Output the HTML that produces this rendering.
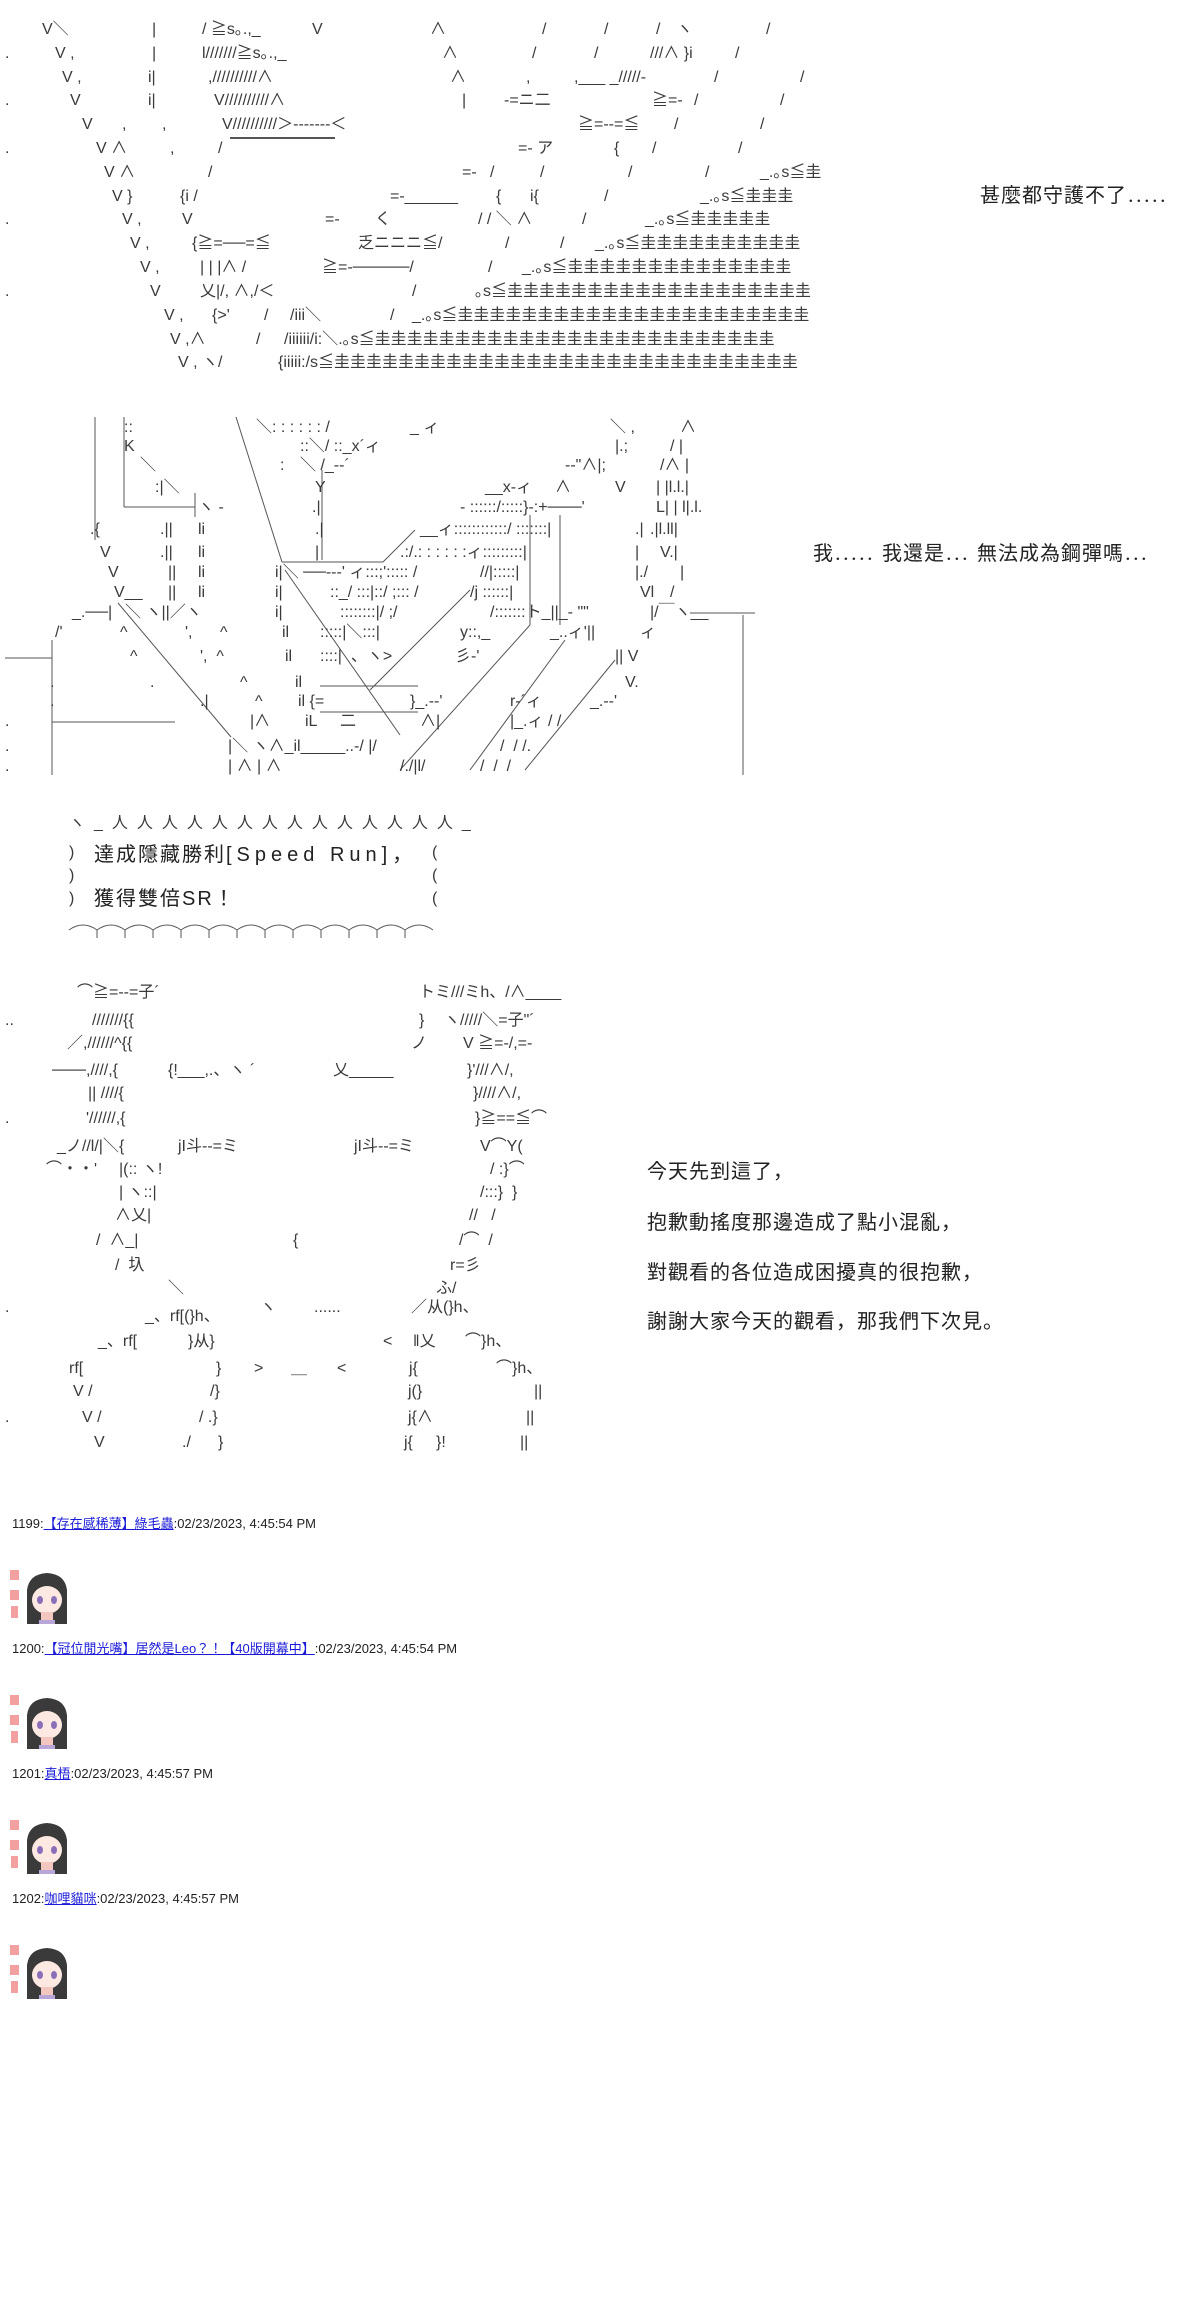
<!DOCTYPE html>
<html><head><meta charset="utf-8">
<style>
html,body{margin:0;padding:0;background:#fff;}
body{position:relative;width:1200px;height:2321px;overflow:hidden;}
i{position:absolute;font-style:normal;white-space:pre;font:16px/16px "Liberation Sans","Noto Sans CJK JP",sans-serif;color:#3a3a3a;}
.t{font-size:20px;line-height:22px;color:#222;letter-spacing:1px;}
.h{font:13px/15px "Liberation Sans","Noto Sans CJK TC",sans-serif;color:#222;}
.h a{color:#1a1ad8;text-decoration:underline;}
svg{position:absolute;left:0;top:0;}
.av{position:absolute;left:9px;width:58px;height:56px;}
.g{font-size:17px;}
</style></head><body>

<svg width="1200" height="2321" style="pointer-events:none">
<g stroke="#555" stroke-width="1" fill="none">
<line x1="230" y1="138" x2="335" y2="138" stroke-width="2"/>
<!-- section2 -->
<line x1="95" y1="417" x2="95" y2="540"/>
<line x1="124" y1="417" x2="124" y2="507"/>
<line x1="124" y1="507" x2="195" y2="507"/>
<line x1="195" y1="493" x2="195" y2="517"/>
<line x1="236" y1="417" x2="282" y2="562"/>
<line x1="282" y1="562" x2="383" y2="562"/>
<line x1="383" y1="562" x2="415" y2="530"/>
<line x1="322" y1="470" x2="322" y2="560"/>
<line x1="118" y1="603" x2="231" y2="737"/>
<line x1="285" y1="570" x2="400" y2="735"/>
<line x1="530" y1="625" x2="400" y2="770"/>
<line x1="565" y1="640" x2="470" y2="770"/>
<line x1="615" y1="660" x2="525" y2="770"/>
<line x1="470" y1="590" x2="370" y2="690"/>
<line x1="5" y1="658" x2="52" y2="658"/>
<line x1="52" y1="640" x2="52" y2="775"/>
<line x1="52" y1="722" x2="175" y2="722"/>
<line x1="743" y1="615" x2="743" y2="775"/>
<line x1="690" y1="613" x2="755" y2="613"/>
<line x1="320" y1="686" x2="418" y2="686"/>
<line x1="320" y1="712" x2="418" y2="712"/>
<line x1="560" y1="515" x2="560" y2="625"/>
<line x1="530" y1="515" x2="530" y2="625"/>
<path d="M69,930 q14,-10 28,0 v8 m0,-8 q14,-10 28,0 v8 m0,-8 q14,-10 28,0 v8 m0,-8 q14,-10 28,0 v8 m0,-8 q14,-10 28,0 v8 m0,-8 q14,-10 28,0 v8 m0,-8 q14,-10 28,0 v8 m0,-8 q14,-10 28,0 v8 m0,-8 q14,-10 28,0 v8 m0,-8 q14,-10 28,0 v8 m0,-8 q14,-10 28,0 v8 m0,-8 q14,-10 28,0 v8 m0,-8 q14,-10 28,0"/>
</g>
</svg>

<!-- SECTION 1 -->
<i style="left:42px;top:22px">V＼</i><i style="left:152px;top:22px">|</i><i style="left:202px;top:22px">/ ≧s｡.,_</i><i style="left:312px;top:22px">V</i><i style="left:430px;top:22px">∧</i><i style="left:542px;top:22px">/</i><i style="left:604px;top:22px">/</i><i style="left:656px;top:22px">/　ヽ</i><i style="left:766px;top:22px">/</i>
<i style="left:5px;top:46px">.</i><i style="left:55px;top:46px">V ,</i><i style="left:152px;top:46px">|</i><i style="left:202px;top:46px">l///////≧s｡.,_</i><i style="left:442px;top:46px">∧</i><i style="left:532px;top:46px">/</i><i style="left:594px;top:46px">/</i><i style="left:650px;top:46px">///∧ }i</i><i style="left:735px;top:46px">/</i>
<i style="left:62px;top:70px">V ,</i><i style="left:148px;top:70px">i|</i><i style="left:208px;top:70px">,//////////∧</i><i style="left:450px;top:70px">∧</i><i style="left:526px;top:70px">,</i><i style="left:574px;top:70px">,___ _/////-</i><i style="left:714px;top:70px">/</i><i style="left:800px;top:70px">/</i>
<i style="left:5px;top:93px">.</i><i style="left:70px;top:93px">V</i><i style="left:148px;top:93px">i|</i><i style="left:214px;top:93px">V//////////∧</i><i style="left:462px;top:93px">|</i><i style="left:504px;top:93px">-=ニ二</i><i style="left:652px;top:93px">≧=-</i><i style="left:694px;top:93px">/</i><i style="left:780px;top:93px">/</i>
<i style="left:82px;top:117px">V</i><i style="left:122px;top:117px">,</i><i style="left:162px;top:117px">,</i><i style="left:222px;top:117px">V//////////＞-------＜</i><i style="left:578px;top:117px">≧=--=≦</i><i style="left:674px;top:117px">/</i><i style="left:760px;top:117px">/</i>
<i style="left:5px;top:141px">.</i><i style="left:96px;top:141px">V ∧</i><i style="left:170px;top:141px">,</i><i style="left:218px;top:141px">/</i><i style="left:518px;top:141px">=- ア</i><i style="left:614px;top:141px">{</i><i style="left:652px;top:141px">/</i><i style="left:738px;top:141px">/</i>
<i style="left:104px;top:165px">V ∧</i><i style="left:208px;top:165px">/</i><i style="left:462px;top:165px">=-   /</i><i style="left:540px;top:165px">/</i><i style="left:628px;top:165px">/</i><i style="left:705px;top:165px">/</i><i style="left:760px;top:165px">_.｡s≦圭</i>
<i style="left:112px;top:189px">V }</i><i style="left:180px;top:189px">{i /</i><i style="left:390px;top:189px">=-______</i><i style="left:496px;top:189px">{</i><i style="left:530px;top:189px">i{</i><i style="left:604px;top:189px">/</i><i style="left:700px;top:189px">_.｡s≦圭圭圭</i>
<i style="left:5px;top:212px">.</i><i style="left:122px;top:212px">V ,</i><i style="left:182px;top:212px">V</i><i style="left:325px;top:212px">=-</i><i style="left:375px;top:212px">く</i><i style="left:478px;top:212px">/ / ＼ ∧</i><i style="left:582px;top:212px">/</i><i style="left:645px;top:212px">_.｡s≦圭圭圭圭圭</i>
<i style="left:130px;top:236px">V ,</i><i style="left:192px;top:236px">{≧=──=≦</i><i style="left:358px;top:236px">乏ニニニ≦/</i><i style="left:505px;top:236px">/</i><i style="left:560px;top:236px">/</i><i style="left:595px;top:236px">_.｡s≦圭圭圭圭圭圭圭圭圭圭</i>
<i style="left:140px;top:260px">V ,</i><i style="left:200px;top:260px">| | |∧ /</i><i style="left:322px;top:260px">≧=-─────/</i><i style="left:488px;top:260px">/</i><i style="left:522px;top:260px">_.｡s≦圭圭圭圭圭圭圭圭圭圭圭圭圭圭</i>
<i style="left:5px;top:284px">.</i><i style="left:150px;top:284px">V</i><i style="left:200px;top:284px">乂|/, ∧,/＜</i><i style="left:412px;top:284px">/</i><i style="left:475px;top:284px">｡s≦圭圭圭圭圭圭圭圭圭圭圭圭圭圭圭圭圭圭圭</i>
<i style="left:164px;top:308px">V ,</i><i style="left:212px;top:308px">{&gt;'</i><i style="left:264px;top:308px">/</i><i style="left:290px;top:308px">/iii＼</i><i style="left:390px;top:308px">/</i><i style="left:412px;top:308px">_.｡s≦圭圭圭圭圭圭圭圭圭圭圭圭圭圭圭圭圭圭圭圭圭圭</i>
<i style="left:170px;top:332px">V ,∧</i><i style="left:256px;top:332px">/</i><i style="left:284px;top:332px">/iiiiii/i:＼.｡s≦圭圭圭圭圭圭圭圭圭圭圭圭圭圭圭圭圭圭圭圭圭圭圭圭圭</i>
<i style="left:178px;top:355px">V , ヽ/</i><i style="left:278px;top:355px">{iiiii:/s≦圭圭圭圭圭圭圭圭圭圭圭圭圭圭圭圭圭圭圭圭圭圭圭圭圭圭圭圭圭</i>

<i class="t" style="left:980px;top:185px">甚麼都守護不了<span style="font-size:16px;letter-spacing:0">．．．．．</span></i>

<!-- SECTION 2 -->
<i style="left:124px;top:420px">::</i><i style="left:256px;top:420px">＼: : : : : : /</i><i style="left:410px;top:420px">_ ィ</i><i style="left:610px;top:420px">＼ ,</i><i style="left:680px;top:420px">∧</i>
<i style="left:124px;top:439px">K</i><i style="left:300px;top:439px">::＼/ ::_x´ィ</i><i style="left:615px;top:439px">|.;</i><i style="left:670px;top:439px">/ |</i>
<i style="left:140px;top:458px">＼</i><i style="left:280px;top:458px">:</i><i style="left:300px;top:458px">＼ /_--´</i><i style="left:565px;top:458px">--"∧|;</i><i style="left:660px;top:458px">/∧ |</i>
<i style="left:155px;top:480px">:|＼</i><i style="left:315px;top:480px">Y</i><i style="left:485px;top:480px">__x‐ィ</i><i style="left:555px;top:480px">∧</i><i style="left:615px;top:480px">V</i><i style="left:656px;top:480px">| |l.l.|</i>
<i style="left:198px;top:500px">ヽ -</i><i style="left:312px;top:500px">.|</i><i style="left:460px;top:500px">- ::::::/:::::}-:+───'</i><i style="left:656px;top:500px">L| | l|.l.</i>
<i style="left:90px;top:522px">.{</i><i style="left:160px;top:522px">.||</i><i style="left:198px;top:522px">li</i><i style="left:315px;top:522px">.|</i><i style="left:420px;top:522px">__ィ::::::::::::/ :::::::|</i><i style="left:635px;top:522px">.|</i><i style="left:650px;top:522px">.|l.ll|</i>
<i style="left:100px;top:545px">V</i><i style="left:160px;top:545px">.||</i><i style="left:198px;top:545px">li</i><i style="left:315px;top:545px">|</i><i style="left:400px;top:545px">.:/.: : : : : :ィ:::::::::|</i><i style="left:635px;top:545px">|</i><i style="left:660px;top:545px">V.|</i>
<i style="left:108px;top:565px">V</i><i style="left:168px;top:565px">||</i><i style="left:198px;top:565px">li</i><i style="left:275px;top:565px">i|＼ ──---' ィ:::;'::::: /</i><i style="left:480px;top:565px">//|:::::|</i><i style="left:635px;top:565px">|./</i><i style="left:680px;top:565px">|</i>
<i style="left:114px;top:585px">V__</i><i style="left:168px;top:585px">||</i><i style="left:198px;top:585px">li</i><i style="left:275px;top:585px">i|</i><i style="left:330px;top:585px">::_/ :::|::/ ;::: /</i><i style="left:470px;top:585px">/j ::::::|</i><i style="left:640px;top:585px">Vl</i><i style="left:670px;top:585px">/</i>
<i style="left:72px;top:605px">_.──|</i><i style="left:125px;top:605px">＼ ヽ||／ヽ</i><i style="left:275px;top:605px">i|</i><i style="left:340px;top:605px">::::::::|/ ;/</i><i style="left:490px;top:605px">/:::::::ト_||_- ""</i><i style="left:650px;top:605px">|/￣ヽ__</i>
<i style="left:55px;top:625px">/'</i><i style="left:120px;top:625px">^</i><i style="left:185px;top:625px">',</i><i style="left:220px;top:625px">^</i><i style="left:282px;top:625px">il</i><i style="left:320px;top:625px">:::::|＼:::|</i><i style="left:460px;top:625px">y::,_</i><i style="left:550px;top:625px">_..ィ'||</i><i style="left:640px;top:625px">ィ</i>
<i style="left:130px;top:649px">^</i><i style="left:200px;top:649px">',  ^</i><i style="left:285px;top:649px">il</i><i style="left:320px;top:649px">::::|  、ヽ&gt;</i><i style="left:455px;top:649px">彡-'</i><i style="left:615px;top:649px">|| V</i>
<i style="left:50px;top:675px">.</i><i style="left:150px;top:675px">.</i><i style="left:240px;top:675px">^</i><i style="left:295px;top:675px">il</i><i style="left:625px;top:675px">V.</i>
<i style="left:50px;top:694px">.</i><i style="left:200px;top:694px">.|</i><i style="left:255px;top:694px">^</i><i style="left:298px;top:694px">il {=</i><i style="left:410px;top:694px">}_.--'</i><i style="left:510px;top:694px">r-´ィ</i><i style="left:590px;top:694px">_.--'</i>
<i style="left:5px;top:714px">.</i><i style="left:250px;top:714px">|∧</i><i style="left:305px;top:714px">iL</i><i style="left:340px;top:714px">二</i><i style="left:420px;top:714px">∧|</i><i style="left:510px;top:714px">|_.ィ / /</i>
<i style="left:5px;top:739px">.</i><i style="left:228px;top:739px">|＼ ヽ∧_il_____..-/ |/</i><i style="left:500px;top:739px">/  / /.</i>
<i style="left:5px;top:759px">.</i><i style="left:228px;top:759px">| ∧ | ∧</i><i style="left:400px;top:759px">/./|l/</i><i style="left:480px;top:759px">/  /  /</i>

<i class="t" style="left:813px;top:543px">我<span style="font-size:16px;letter-spacing:0">．．．．．</span>我還是<span style="font-size:16px;letter-spacing:0">．．．</span>無法成為鋼彈嗎<span style="font-size:16px;letter-spacing:0">．．．</span></i>

<!-- SECTION 3 box -->
<i style="left:69px;top:816px;letter-spacing:9px">ヽ_人人人人人人人人人人人人人人_</i>
<i style="left:69px;top:845px">)</i><i style="left:432px;top:845px">(</i>
<i style="left:69px;top:868px">)</i><i style="left:432px;top:868px">(</i>
<i style="left:69px;top:891px">)</i><i style="left:432px;top:891px">(</i>
<i class="t" style="left:94px;top:844px;letter-spacing:2px">達成隱藏勝利<span style="letter-spacing:5px">[Speed Run]，</span></i>
<i class="t" style="left:94px;top:888px;letter-spacing:2px">獲得雙倍SR！</i>

<!-- SECTION 4 -->
<i style="left:77px;top:985px">⌒≧=--=子´</i><i style="left:419px;top:985px">トミ///ミh、/∧____</i>
<i style="left:5px;top:1013px">..</i><i style="left:92px;top:1013px">///////{{</i><i style="left:419px;top:1013px">}</i><i style="left:444px;top:1013px">ヽ/////＼=子"´</i>
<i style="left:67px;top:1036px">／,//////^{{</i><i style="left:411px;top:1036px">ノ</i><i style="left:463px;top:1036px">V ≧=-/,=-</i>
<i style="left:52px;top:1063px">───,////,{</i><i style="left:168px;top:1063px">{!___,.、ヽ ´</i><i style="left:333px;top:1063px">乂_____</i><i style="left:467px;top:1063px">}'///∧/,</i>
<i style="left:88px;top:1086px">|| ////{</i><i style="left:473px;top:1086px">}////∧/,</i>
<i style="left:5px;top:1111px">.</i><i style="left:86px;top:1111px">'//////,{</i><i style="left:475px;top:1111px">}≧==≦⌒</i>
<i style="left:57px;top:1139px">_ノ//l/|＼{</i><i style="left:178px;top:1139px">jI斗--=ミ</i><i style="left:354px;top:1139px">jI斗--=ミ</i><i style="left:480px;top:1139px">V⌒Y(</i>
<i style="left:46px;top:1162px">⌒・・'</i><i style="left:119px;top:1162px">|(:: ヽ!</i><i style="left:490px;top:1162px">/ :}⌒</i>
<i style="left:119px;top:1185px">| ヽ::|</i><i style="left:480px;top:1185px">/:::}  }</i>
<i style="left:115px;top:1208px">∧乂|</i><i style="left:469px;top:1208px">//   /</i>
<i style="left:96px;top:1233px">/  ∧_|</i><i style="left:293px;top:1233px">{</i><i style="left:459px;top:1233px">/⌒  /</i>
<i style="left:115px;top:1258px">/  圦</i><i style="left:450px;top:1258px">r=彡</i>
<i style="left:168px;top:1281px">＼</i><i style="left:436px;top:1281px">ふ/</i>
<i style="left:5px;top:1300px">.</i><i style="left:260px;top:1300px">ヽ</i><i style="left:314px;top:1300px">......</i><i style="left:411px;top:1300px">／从(}h、</i>
<i style="left:145px;top:1309px">_、rf[(}h、</i>
<i style="left:98px;top:1334px">_、rf[</i><i style="left:188px;top:1334px">}从}</i><i style="left:383px;top:1334px">&lt;</i><i style="left:413px;top:1334px">‖乂</i><i style="left:465px;top:1334px">⌒}h、</i>
<i style="left:69px;top:1361px">rf[</i><i style="left:216px;top:1361px">}</i><i style="left:254px;top:1361px">&gt;</i><i style="left:291px;top:1361px">＿</i><i style="left:337px;top:1361px">&lt;</i><i style="left:409px;top:1361px">j{</i><i style="left:496px;top:1361px">⌒}h、</i>
<i style="left:73px;top:1384px">V /</i><i style="left:210px;top:1384px">/}</i><i style="left:408px;top:1384px">j(}</i><i style="left:534px;top:1384px">||</i>
<i style="left:5px;top:1410px">.</i><i style="left:82px;top:1410px">V /</i><i style="left:199px;top:1410px">/ .}</i><i style="left:408px;top:1410px">j{∧</i><i style="left:526px;top:1410px">||</i>
<i style="left:94px;top:1435px">V</i><i style="left:182px;top:1435px">./</i><i style="left:218px;top:1435px">}</i><i style="left:404px;top:1435px">j{</i><i style="left:436px;top:1435px">}!</i><i style="left:520px;top:1435px">||</i>

<i class="t" style="left:647px;top:1161px">今天先到這了，</i>
<i class="t" style="left:647px;top:1212px">抱歉動搖度那邊造成了點小混亂，</i>
<i class="t" style="left:647px;top:1262px">對觀看的各位造成困擾真的很抱歉，</i>
<i class="t" style="left:647px;top:1311px">謝謝大家今天的觀看，那我們下次見。</i>

<!-- POSTS -->
<i class="h" style="left:12px;top:1516px">1199:<a>【存在感稀薄】綠毛蟲</a>:02/23/2023, 4:45:54 PM</i>
<i class="h" style="left:12px;top:1641px">1200:<a>【冠位閒光嘴】居然是Leo？！【40版開幕中】</a>:02/23/2023, 4:45:54 PM</i>
<i class="h" style="left:12px;top:1766px">1201:<a>真梧</a>:02/23/2023, 4:45:57 PM</i>
<i class="h" style="left:12px;top:1891px">1202:<a>咖哩貓咪</a>:02/23/2023, 4:45:57 PM</i>

<svg class="av" style="top:1568px" viewBox="0 0 58 56"><use href="#avt"/></svg>
<svg class="av" style="top:1693px" viewBox="0 0 58 56"><use href="#avt"/></svg>
<svg class="av" style="top:1818px" viewBox="0 0 58 56"><use href="#avt"/></svg>
<svg class="av" style="top:1943px" viewBox="0 0 58 56"><use href="#avt"/></svg>
<svg width="0" height="0" style="position:absolute">
<defs><g id="avt">
<rect x="1" y="2" width="9" height="10" fill="#f2a0a0"/>
<rect x="1" y="22" width="9" height="10" fill="#f2a0a0"/>
<rect x="2" y="38" width="7" height="12" fill="#f2a0a0"/>
<path d="M18,56 L18,22 Q20,6 38,5 Q56,6 58,22 L58,56 Z" fill="#3a3a3a"/>
<ellipse cx="38" cy="32" rx="15" ry="14" fill="#fde9e2"/>
<path d="M22,24 Q38,10 54,24 L54,18 Q38,6 22,18 Z" fill="#3a3a3a"/>
<ellipse cx="31" cy="32" rx="3" ry="4" fill="#8a6fb8"/>
<ellipse cx="45" cy="32" rx="3" ry="4" fill="#8a6fb8"/>
<rect x="32" y="44" width="12" height="10" fill="#f3c7c0"/>
<rect x="30" y="52" width="16" height="4" fill="#b9a6d8"/>
</g></defs></svg>
</body></html>
